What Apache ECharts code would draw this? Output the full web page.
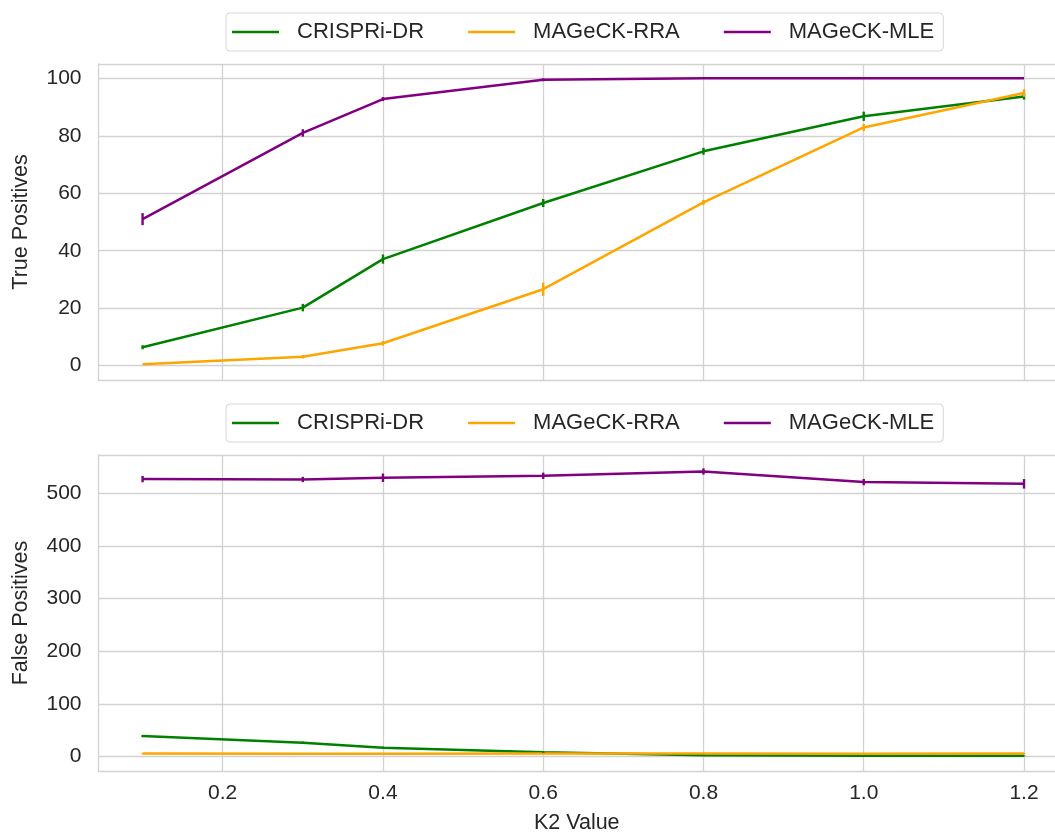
<!DOCTYPE html>
<html>
<head>
<meta charset="utf-8">
<script src="https://cdn.jsdelivr.net/npm/echarts@6/dist/echarts.min.js"></script>
<style>
  html, body { margin: 0; padding: 0; background: #ffffff; }
  #chart { width: 1055px; height: 835px; }
</style>
</head>
<body>
<div id="chart"></div>
<script>
// K2 values tested
const k2Values = [0.1, 0.3, 0.4, 0.6, 0.8, 1.0, 1.2];
const xTicks = [0.2, 0.4, 0.6, 0.8, 1.0, 1.2];

const methods = ['CRISPRi-DR', 'MAGeCK-RRA', 'MAGeCK-MLE'];
const colors = ['#008000', '#FFA500', '#800080'];

// True positives (mean and spread)
const tpDR = [6.4, 20.2, 37.1, 56.6, 74.6, 86.8, 93.7];
const tpRRA = [0.5, 3.1, 7.8, 26.6, 56.8, 82.9, 94.9];
const tpMLE = [51.0, 81.0, 92.8, 99.5, 100, 100, 100];
const tpDRErr = [0.7, 1.3, 1.6, 1.4, 1.2, 1.6, 1.1];
const tpRRAErr = [0, 0.6, 0.8, 2.3, 0.9, 1.2, 1.3];
const tpMLEErr = [2.1, 1.3, 0.7, 0.5, 0, 0, 0];
const tpTicks = [0, 20, 40, 60, 80, 100];

// False positives (mean and spread)
const fpDR = [39, 26.5, 17, 8.5, 2.5, 1.5, 1.5];
const fpRRA = [5.8, 5.6, 5.4, 6.0, 5.8, 5.6, 5.9];
const fpMLE = [526.5, 525.8, 529, 532.8, 541, 520.8, 517.6];
const fpDRErr = [2, 2, 2, 1.5, 1, 1, 1];
const fpRRAErr = [1, 1, 1, 1, 1, 1, 1];
const fpMLEErr = [6, 5, 8, 6, 6, 6, 9];
const fpTicks = [0, 100, 200, 300, 400, 500];

const FONT = '"Liberation Sans", Arial, Helvetica, sans-serif';
const TEXT = '#262626';
const GRID = '#d2d2d2';
const X_MIN = 0.045, X_MAX = 1.2387;

function pairs(ys) { return k2Values.map((x, i) => [x, ys[i]]); }
function errRows(ys, es) { return k2Values.map((x, i) => [x, ys[i], es[i]]); }

function lineSeries(name, ys, color, gi) {
  return {
    type: 'line', name: name, xAxisIndex: gi, yAxisIndex: gi,
    data: pairs(ys), showSymbol: false, symbol: 'none',
    lineStyle: { color: color, width: 2.5 }, itemStyle: { color: color },
    z: 3
  };
}

function errSeries(ys, es, color, gi) {
  return {
    type: 'custom', name: 'err', xAxisIndex: gi, yAxisIndex: gi,
    data: errRows(ys, es), silent: true, z: 4,
    renderItem: function (params, api) {
      const x = api.value(0), y = api.value(1), e = api.value(2);
      if (!e) return null;
      const p1 = api.coord([x, y - e]);
      const p2 = api.coord([x, y + e]);
      return {
        type: 'line',
        shape: { x1: p1[0], y1: p1[1], x2: p2[0], y2: p2[1] },
        style: { stroke: color, lineWidth: 2.4 }
      };
    }
  };
}

function legendAt(top) {
  return {
    data: methods, left: 226, top: top, orient: 'horizontal',
    icon: 'rect', itemWidth: 47, itemHeight: 2.5, itemGap: 44,
    padding: [8, 9, 8, 6],
    backgroundColor: '#ffffff', borderColor: '#d6d6d6', borderWidth: 1, borderRadius: 4,
    textStyle: { fontFamily: FONT, fontSize: 22, color: TEXT, lineHeight: 22, padding: [0, 0, 0, 13] },
    selectedMode: false
  };
}

function xAxisFor(gi, showLabels) {
  return {
    type: 'value', gridIndex: gi, min: X_MIN, max: X_MAX, position: 'bottom',
    axisLine: { show: true, onZero: false, lineStyle: { color: GRID, width: 1.3 } },
    axisTick: { show: false, customValues: xTicks },
    axisLabel: {
      show: showLabels, customValues: xTicks, margin: 12,
      fontFamily: FONT, fontSize: 21, color: TEXT,
      formatter: v => v.toFixed(1)
    },
    splitLine: { show: true, lineStyle: { color: GRID, width: 1.3 } },
    name: showLabels ? 'K2 Value' : '', nameLocation: 'middle', nameGap: 41,
    nameTextStyle: { fontFamily: FONT, fontSize: 21.5, color: TEXT }
  };
}

// frame line along the top of each panel
function topFrame(gi) {
  return {
    type: 'value', gridIndex: gi, min: X_MIN, max: X_MAX, position: 'top',
    axisLine: { show: true, onZero: false, lineStyle: { color: GRID, width: 1.3 } },
    axisTick: { show: false }, axisLabel: { show: false }, splitLine: { show: false }
  };
}

function yAxisFor(gi, min, max, ticks, title) {
  return {
    type: 'value', gridIndex: gi, min: min, max: max, position: 'left',
    axisLine: { show: true, onZero: false, lineStyle: { color: GRID, width: 1.3 } },
    axisTick: { show: false, customValues: ticks },
    axisLabel: { customValues: ticks, margin: 17, fontFamily: FONT, fontSize: 21, color: TEXT },
    splitLine: { show: true, lineStyle: { color: GRID, width: 1.3 } },
    name: title, nameLocation: 'middle', nameRotate: 90, nameGap: 66,
    nameTextStyle: { fontFamily: FONT, fontSize: 21.5, color: TEXT }
  };
}

const chart = echarts.init(document.getElementById('chart'), null, { renderer: 'canvas' });

chart.setOption({
  backgroundColor: '#ffffff',
  animation: false,
  legend: [legendAt(13), legendAt(404)],
  grid: [
    { left: 98.5, right: 0, top: 64, height: 316, show: false },
    { left: 98.5, right: 0, top: 455, height: 316.7, show: false }
  ],
  xAxis: [xAxisFor(0, false), xAxisFor(1, true), topFrame(0), topFrame(1)],
  yAxis: [
    yAxisFor(0, -5, 105, tpTicks, 'True Positives'),
    yAxisFor(1, -27.25, 572.25, fpTicks, 'False Positives')
  ],
  series: [
    lineSeries(methods[0], tpDR, colors[0], 0),
    errSeries(tpDR, tpDRErr, colors[0], 0),
    lineSeries(methods[1], tpRRA, colors[1], 0),
    errSeries(tpRRA, tpRRAErr, colors[1], 0),
    lineSeries(methods[2], tpMLE, colors[2], 0),
    errSeries(tpMLE, tpMLEErr, colors[2], 0),
    lineSeries(methods[0], fpDR, colors[0], 1),
    errSeries(fpDR, fpDRErr, colors[0], 1),
    lineSeries(methods[1], fpRRA, colors[1], 1),
    errSeries(fpRRA, fpRRAErr, colors[1], 1),
    lineSeries(methods[2], fpMLE, colors[2], 1),
    errSeries(fpMLE, fpMLEErr, colors[2], 1)
  ]
});
</script>
</body>
</html>
